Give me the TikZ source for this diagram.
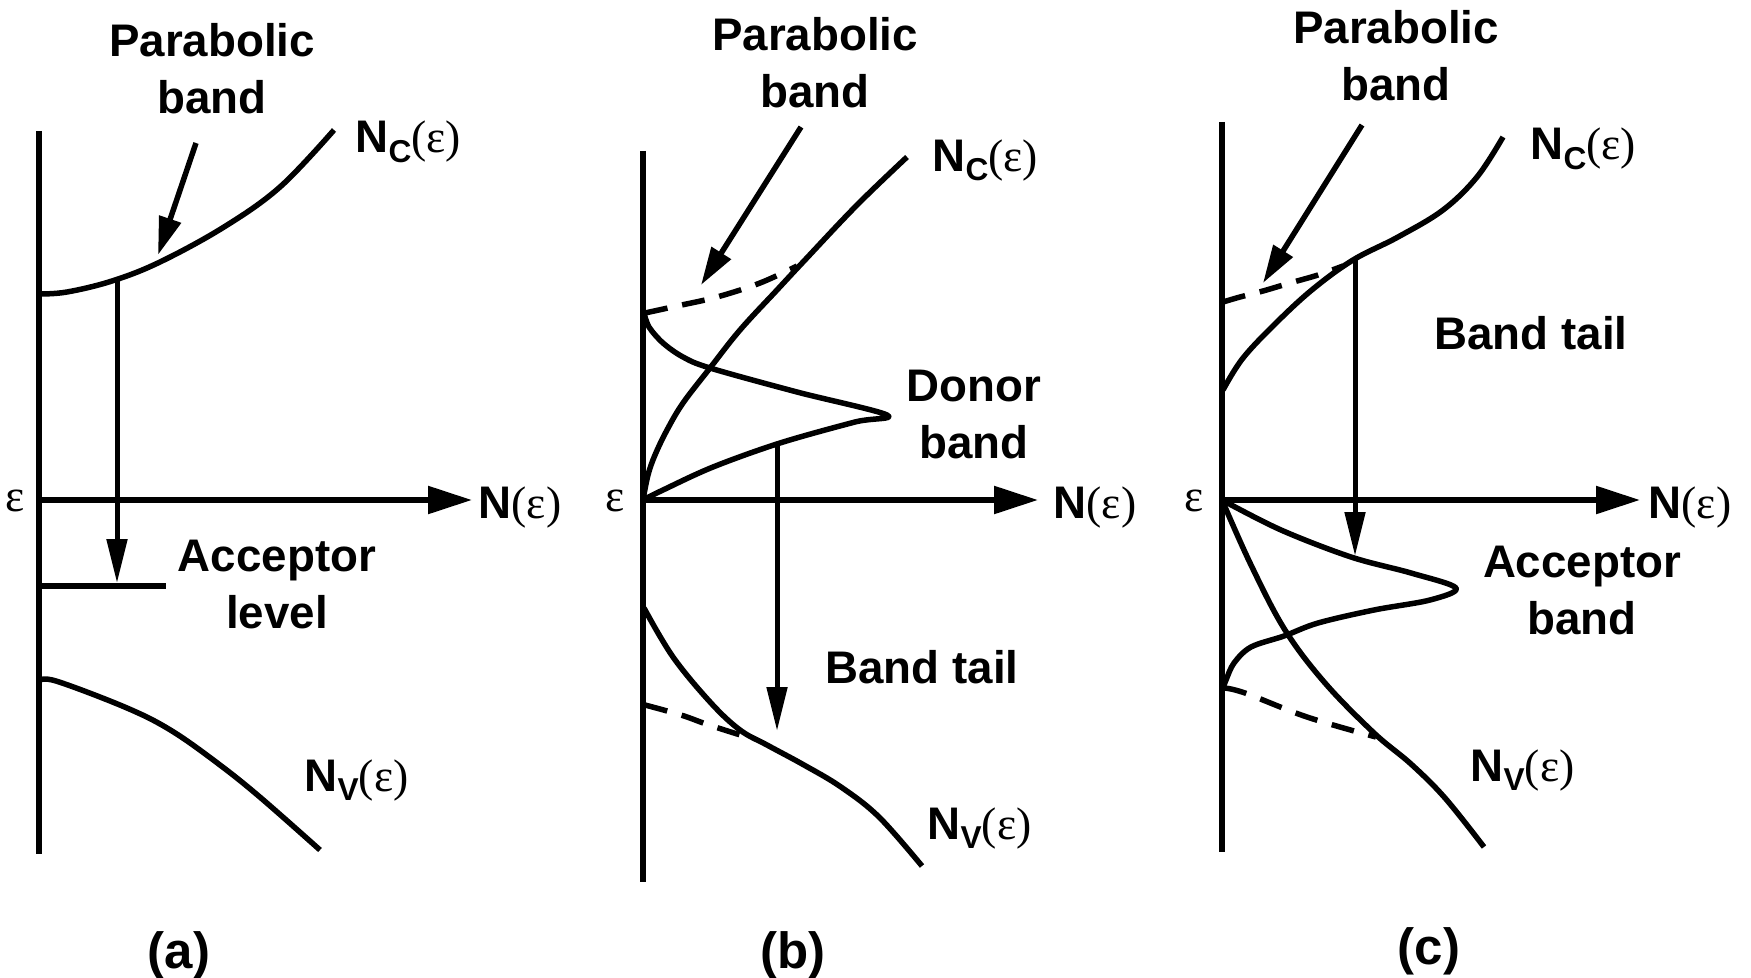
\documentclass[tikz,border=0pt]{standalone}
\usepackage{fontspec}
\setmainfont{Liberation Sans}
\newfontfamily\epsfont{Liberation Serif}
\usepackage{tikz}
\usetikzlibrary{arrows.meta}
\newcommand{\Neps}{N{\epsfont\mdseries(ε)}}
\newcommand{\Nsub}[1]{N\raisebox{-2.8pt}{\fontsize{9}{10}\selectfont #1}{\epsfont\mdseries(ε)}}

\begin{document}
\begin{tikzpicture}[x=0.1mm, y=-0.1mm,
  axline/.style={line width=0.55mm},
  bandline/.style={line width=0.55mm, line join=round},
  dashband/.style={line width=0.55mm, dash pattern=on 2.3mm off 1.5mm},
  axarrow/.style={axline, -{Triangle[length=4.4mm, width=2.7mm]}},
  droparrow/.style={line width=0.5mm, -{Triangle[length=4.4mm, width=2mm]}},
  pbarrow/.style={line width=0.55mm, -{Triangle[length=3.8mm, width=2.2mm]}},
  txt/.style={font=\fontsize{13}{16.2}\selectfont\bfseries, inner sep=0pt, align=center},
  nlab/.style={font=\fontsize{13}{15}\selectfont\bfseries, inner sep=0pt, anchor=base west},
  epslab/.style={font=\fontsize{13}{15}\selectfont\epsfont, inner sep=0pt, anchor=east},
  panel/.style={font=\fontsize{14.5}{17}\selectfont\bfseries, inner sep=0pt}]

  \useasboundingbox (0,0) rectangle (1751,978);

  \coordinate (Oa) at (39,500);
  \coordinate (Ob) at (643,500);
  \coordinate (Oc) at (1222,500);

  %% (a) acceptor level
  \draw[axline] (39,131) -- (39,854);
  \draw[axarrow] (Oa) -- (472,500);
  \node[nlab] (nea) at (478,518) {\Neps};
  \node[epslab] (ea) at (25,501) {ε};

  \draw[bandline] plot[smooth, tension=0.6] coordinates
    {(39,294) (67,292) (112,281) (160,262) (224,227) (280,187) (334,130)}; % N_C
  \draw[bandline] plot[smooth, tension=0.6] coordinates
    {(39,681) (56,681) (127,708) (172,731) (220,765) (261,798) (320,850)}; % N_V
  \draw[axline] (39,586) -- (166,586); % level

  \draw[pbarrow] (196,143) -- (158,255);
  \draw[droparrow] (117,280) -- (117,583);

  \node[txt, anchor=north] (pba) at (212,23) {Parabolic\\band};
  \node[txt, anchor=north] (ala) at (277,539) {Acceptor\\level};
  \node[nlab] (nca) at (355,153) {\Nsub{C}};
  \node[nlab] (nva) at (304,791) {\Nsub{V}};
  \node[panel] (la) at (179,955) {(a)};

  %% (b) donor band
  \draw[axline] (643,151) -- (643,882);
  \draw[axarrow] (Ob) -- (1038,500);
  \node[nlab] (neb) at (1053,518) {\Neps};
  \node[epslab] (eb) at (625,501) {ε};

  \draw[bandline] plot[smooth, tension=0.6] coordinates
    {(Ob) (648,475) (655,455) (667,430) (683,403) (710,368) (740,330) (777,290) (804,261) (857,205) (907,157)}; % N_C
  \draw[dashband] plot[smooth, tension=0.6] coordinates
    {(645,313) (677,306) (717,297) (760,283) (797,266)};
  \draw[bandline] plot[smooth, tension=0.55] coordinates
    {(644,313) (649,327) (663,343) (683,357) (710,368) (797,392) (887,415)
     (855,422) (780,443) (713,467) (663,490) (Ob)}; % donor
  \draw[bandline] plot[smooth, tension=0.6] coordinates
    {(644,608) (673,657) (711,703) (740,730) (767,745) (804,765) (841,787) (879,817) (922,866)}; % N_V
  \draw[dashband] plot[smooth, tension=0.6] coordinates
    {(645,705) (681,715) (709,725) (750,738)};

  \draw[pbarrow] (801,127) -- (701,285);
  \draw[droparrow] (777,444) -- (777,731);

  \node[txt, anchor=north] (pbb) at (815,17) {Parabolic\\band};
  \node[txt, anchor=north] (dbb) at (974,369) {Donor\\band};
  \node[txt, anchor=base] (btb) at (922,683) {Band tail};
  \node[nlab] (ncb) at (932,171) {\Nsub{C}};
  \node[nlab] (nvb) at (927,839) {\Nsub{V}};
  \node[panel] (lb) at (793,955) {(b)};

  %% (c) acceptor band
  \draw[axline] (1222,122) -- (1222,852);
  \draw[axarrow] (Oc) -- (1640,500);
  \node[nlab] (nec) at (1648,518) {\Neps};
  \node[epslab] (ec) at (1204,501) {ε};

  \draw[bandline] plot[smooth, tension=0.6] coordinates
    {(1223,390) (1243,358) (1277,322) (1313,289) (1353,260) (1398,237) (1443,210) (1477,177) (1503,137)}; % N_C
  \draw[dashband] plot[smooth, tension=0.6] coordinates
    {(1223,302) (1240,297) (1263,291) (1290,283) (1318,275) (1343,266)};
  \draw[bandline] plot[smooth, tension=0.55] coordinates
    {(Oc) (1281,530) (1351,557) (1411,573) (1456,588) (1430,600) (1374,610)
     (1318,623) (1284,636) (1251,647) (1234,663) (1226,680) (1223,688)}; % acceptor
  \draw[bandline] plot[smooth, tension=0.6] coordinates
    {(Oc) (1251,565) (1285,630) (1325,683) (1374,733) (1411,764) (1445,798) (1484,847)}; % N_V
  \draw[dashband] plot[smooth, tension=0.6] coordinates
    {(1224,688) (1245,693) (1307,717) (1376,737)};

  \draw[pbarrow] (1362,125) -- (1263,283);
  \draw[droparrow] (1355,259) -- (1355,556);

  \node[txt, anchor=north] (pbc) at (1396,10) {Parabolic\\band};
  \node[txt, anchor=base] (btc) at (1531,349) {Band tail};
  \node[txt, anchor=north] (abc) at (1582,545) {Acceptor\\band};
  \node[nlab] (ncc) at (1530,160) {\Nsub{C}};
  \node[nlab] (nvc) at (1470,781) {\Nsub{V}};
  \node[panel] (lc) at (1429,951) {(c)};

\end{tikzpicture}
\end{document}
